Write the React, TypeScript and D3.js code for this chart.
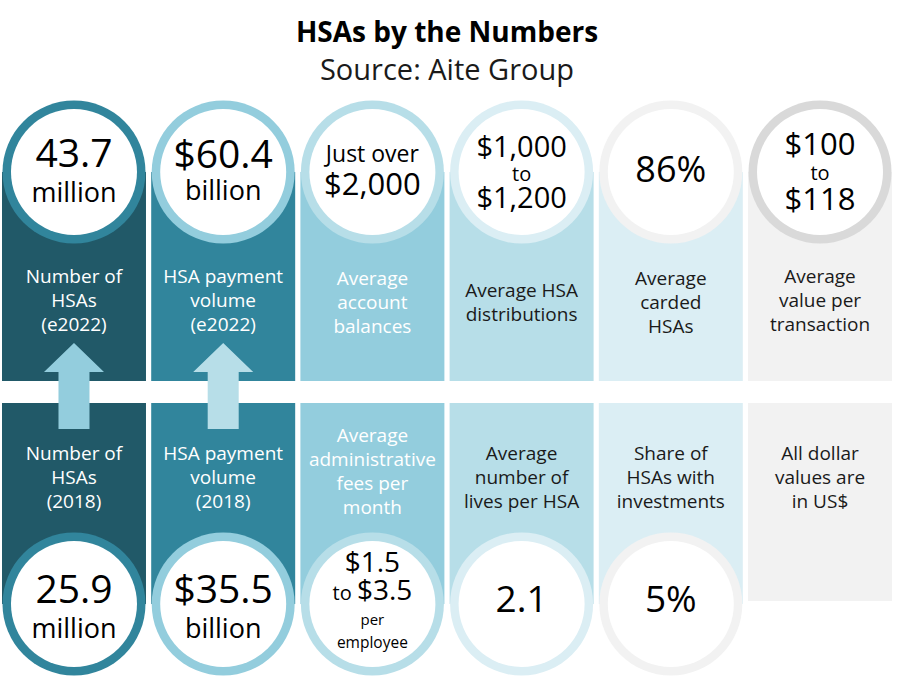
import React from "react";
import * as d3 from "d3";

// ---------- DATA ----------
const columns = ["c1", "c2", "c3", "c4", "c5", "c6"];
const topValues: string[][] = [
  ["43.7", "million"],
  ["$60.4", "billion"],
  ["Just over", "$2,000"],
  ["$1,000", "to", "$1,200"],
  ["86%"],
  ["$100", "to", "$118"],
];
const topLabels: string[][] = [
  ["Number of", "HSAs", "(e2022)"],
  ["HSA payment", "volume", "(e2022)"],
  ["Average", "account", "balances"],
  ["Average HSA", "distributions"],
  ["Average", "carded", "HSAs"],
  ["Average", "value per", "transaction"],
];
const bottomLabels: string[][] = [
  ["Number of", "HSAs", "(2018)"],
  ["HSA payment", "volume", "(2018)"],
  ["Average", "administrative", "fees per", "month"],
  ["Average", "number of", "lives per HSA"],
  ["Share of", "HSAs with", "investments"],
  ["All dollar", "values are", "in US$"],
];
const bottomValues: string[][] = [
  ["25.9", "million"],
  ["$35.5", "billion"],
  ["$1.5", "to|$3.5", "per", "employee"],
  ["2.1"],
  ["5%"],
  [],
];
const arrowColumns = [0, 1];
const titleText = "HSAs by the Numbers";
const subtitleText = "Source: Aite Group";

// ---------- STYLE ----------
const colBg = ["#215968", "#31859c", "#93cddd", "#b7dee8", "#dbeef4", "#f2f2f2"];
const ringCol = ["#31859c", "#93cddd", "#b7dee8", "#dbeef4", "#f2f2f2", "#d9d9d9"];
const arrowCol = ["#93cddd", "#b7dee8"];
const labelColor = ["#ffffff", "#ffffff", "#ffffff", "#1a1a1a", "#1a1a1a", "#1a1a1a"];
const FONT = "'Open Sans', Carlito, Calibri, sans-serif";

// per-line [baseline offset from circle centre, font size]
const topValueStyle: [number, number][][] = [
  [[-5, 39], [30, 27]],
  [[-4, 39], [28, 27]],
  [[-10, 23], [23, 31]],
  [[-15, 29], [9, 20], [36, 29]],
  [[10, 36]],
  [[-17, 31], [8, 20], [38, 31]],
];
const bottomValueStyle: [number, number][][] = [
  [[-1, 39], [34, 27]],
  [[-1, 39], [34, 27]],
  [[-32, 28], [-4, 28], [21, 15], [44, 15.5]],
  [[8, 37]],
  [[8, 37]],
  [],
];
const topLabelBase = [283, 283, 285, 297, 285, 283];
const bottomLabelBase = [460, 460, 442, 460, 460, 460];

const W = 900;
const H = 689;
const topCY = 172;
const botCY = 604;
const R_OUT = 71.5;
const R_IN = 63;
const topRectBottom = 381;
const botRectTop = 403;
const lastRectBottom = 601;

export default function App() {
  const x = d3
    .scaleBand<number>()
    .domain(columns.map((_, i) => i))
    .range([2, 892])
    .paddingInner(0.035)
    .paddingOuter(0);
  const bw = x.bandwidth();

  const renderBlock = (
    lines: string[],
    styles: [number, number][],
    cx: number,
    cy: number,
    color: string
  ) => (
    <text textAnchor="middle" fill={color} fontFamily={FONT}>
      {lines.map((ln, j) => {
        const [dy, fs] = styles[j];
        if (ln.includes("|")) {
          const [a, b] = ln.split("|");
          return (
            <tspan key={j} x={cx} y={cy + dy}>
              <tspan fontSize={20}>{a} </tspan>
              <tspan fontSize={fs}>{b}</tspan>
            </tspan>
          );
        }
        return (
          <tspan key={j} x={cx} y={cy + dy} fontSize={fs}>
            {ln}
          </tspan>
        );
      })}
    </text>
  );

  return (
    <svg width={W} height={H} style={{ position: "absolute", left: 0, top: 0, background: "#fff" }}>
      <rect x={0} y={0} width={W} height={H} fill="#fff" />
      <text x={447} y={42} textAnchor="middle" fontSize={28} fontWeight="bold" fontFamily={FONT} fill="#000">
        {titleText}
      </text>
      <text x={447} y={80} textAnchor="middle" fontSize={29} fontFamily={FONT} fill="#1a1a1a">
        {subtitleText}
      </text>

      {columns.map((_, i) => {
        const x0 = x(i)!;
        const cx = x0 + bw / 2;
        const hasBottomCircle = bottomValues[i].length > 0;
        return (
          <g key={i}>
            {/* top part */}
            <rect x={x0} y={topCY} width={bw} height={topRectBottom - topCY} fill={colBg[i]} />
            <circle cx={cx} cy={topCY} r={R_OUT} fill={ringCol[i]} />
            <circle cx={cx} cy={topCY} r={R_IN} fill="#fff" />
            {renderBlock(topValues[i], topValueStyle[i], cx, topCY, "#000")}
            <text textAnchor="middle" fontSize={19} fill={labelColor[i]} fontFamily={FONT}>
              {topLabels[i].map((t, j) => (
                <tspan key={j} x={cx} y={topLabelBase[i] + j * 24}>
                  {t}
                </tspan>
              ))}
            </text>

            {/* bottom part */}
            <rect
              x={x0}
              y={botRectTop}
              width={bw}
              height={(hasBottomCircle ? botCY : lastRectBottom) - botRectTop}
              fill={colBg[i]}
            />
            {hasBottomCircle && (
              <>
                <circle cx={cx} cy={botCY} r={R_OUT} fill={ringCol[i]} />
                <circle cx={cx} cy={botCY} r={R_IN} fill="#fff" />
                {renderBlock(bottomValues[i], bottomValueStyle[i], cx, botCY, "#000")}
              </>
            )}
            <text textAnchor="middle" fontSize={19} fill={labelColor[i]} fontFamily={FONT}>
              {bottomLabels[i].map((t, j) => (
                <tspan key={j} x={cx} y={bottomLabelBase[i] + j * 24}>
                  {t}
                </tspan>
              ))}
            </text>
          </g>
        );
      })}

      {arrowColumns.map((i, k) => {
        const cx = x(i)! + bw / 2;
        const tip = 343;
        const headBase = 372;
        const shaftBottom = 429;
        const hw = 30;
        const sw = 15.5;
        const p = d3.path();
        p.moveTo(cx, tip);
        p.lineTo(cx + hw, headBase);
        p.lineTo(cx + sw, headBase);
        p.lineTo(cx + sw, shaftBottom);
        p.lineTo(cx - sw, shaftBottom);
        p.lineTo(cx - sw, headBase);
        p.lineTo(cx - hw, headBase);
        p.closePath();
        return <path key={k} d={p.toString()} fill={arrowCol[k]} />;
      })}
    </svg>
  );
}
